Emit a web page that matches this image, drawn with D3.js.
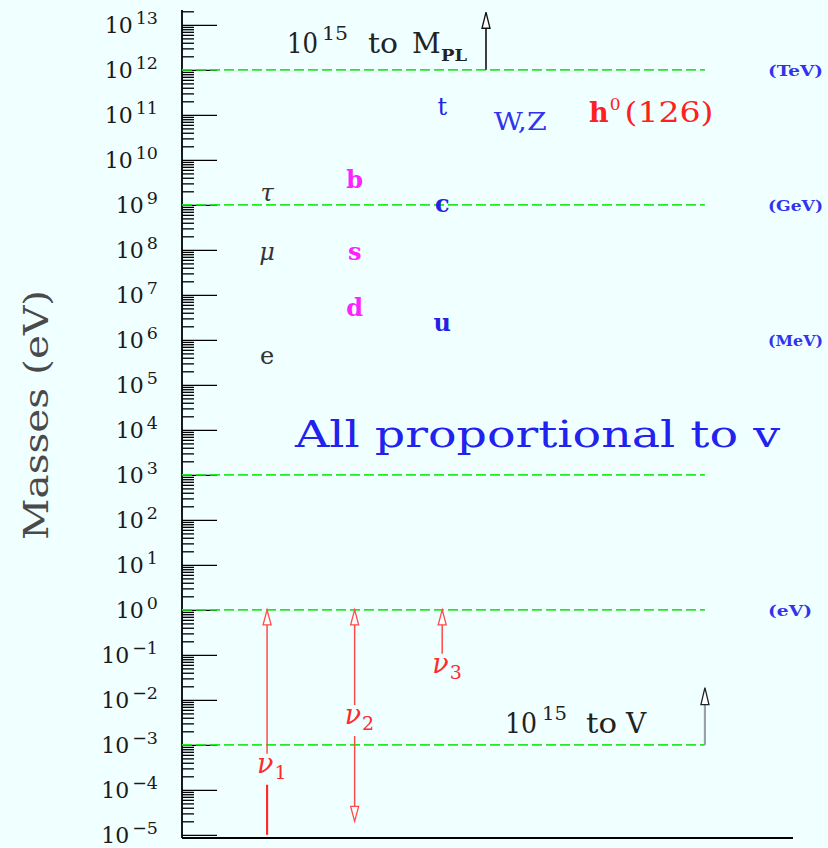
<!DOCTYPE html>
<html>
<head>
<meta charset="utf-8">
<script src="https://cdn.jsdelivr.net/npm/d3@7"></script>
<style>
  html, body { margin: 0; padding: 0; background: #f0ffff; }
  svg { display: block; }
</style>
</head>
<body>
<svg id="chart" width="828" height="848"></svg>
<script>
// ---------------- DATA ----------------
const decadeExponents = d3.range(-5, 14);          // major ticks 10^-5 ... 10^13
const minorMultipliers = [2, 3, 4, 5, 6, 7, 8, 9];
const guideMasses = [1e12, 1e9, 1e3, 1, 1e-3];      // green dashed lines (eV)
const unitNames = ["(TeV)", "(GeV)", "(MeV)", "(eV)"];
const unitMasses = [1e12, 1e9, 1e6, 1];

const leptonNames = ["e", "μ", "τ"];
const leptonMasses = [5.1e5, 1.06e8, 2.1e9];
const downQuarkNames = ["d", "s", "b"];
const downQuarkMasses = [6.0e6, 1.05e8, 4.2e9];
const upQuarkNames = ["u", "c", "t"];
const upQuarkMasses = [2.7e6, 1.2e9, 1.74e11];
const bosonNames = ["W,Z", "h"];
const bosonMasses = [9.0e10, 1.26e11];

const neutrinoIndex = ["1", "2", "3"];
const neutrinoLow = [1e-5, 2e-5, 0.09];
const neutrinoHigh = [1, 1, 1];
const neutrinoLabelMass = [2.4e-4, 2.9e-3, 4.0e-2];
const neutrinoLowerHead = [false, true, false];

// ---------------- LAYOUT ----------------
const W = 828, H = 848;
const axisX = 182, axisRight = 793, axisBottom = 838, axisTop = 10;
const serif = "DejaVu Serif";

const svg = d3.select("#chart");
svg.append("rect").attr("width", W).attr("height", H).attr("fill", "#f0ffff");

const y = d3.scaleLog().domain([Math.pow(10, -5.07), Math.pow(10, 13.33)]).range([axisBottom, axisTop]);
const x = d3.scaleLinear().domain([0, 7]).range([179.5, 792.5]);

// ---------------- AXES ----------------
const minorValues = [];
decadeExponents.forEach(k => minorMultipliers.forEach(m => {
  const v = m * Math.pow(10, k);
  if (v <= y.domain()[1]) minorValues.push(v);
}));

const minorAxis = d3.axisLeft(y).tickValues(minorValues).tickSize(-12).tickFormat("");
const gMinor = svg.append("g").attr("transform", `translate(${axisX},0)`).call(minorAxis);
gMinor.select(".domain").remove();
gMinor.selectAll("line").attr("stroke", "#000").attr("stroke-width", 1.3);

const majorAxis = d3.axisLeft(y)
  .tickValues(decadeExponents.map(k => Math.pow(10, k)))
  .tickSize(-35).tickPadding(24).tickFormat("");
const gMajor = svg.append("g").attr("transform", `translate(${axisX},0)`).call(majorAxis);
gMajor.select(".domain").remove();
gMajor.selectAll("line").attr("stroke", "#000").attr("stroke-width", 1.4);
gMajor.selectAll(".tick text").each(function(d) {
  const e = Math.round(Math.log10(d));
  const t = d3.select(this)
    .attr("dy", null).attr("y", 8)
    .attr("font-family", serif).attr("fill", "#1a1a1a")
    .attr("text-anchor", "end");
  t.append("tspan").attr("font-size", 22).text("10");
  t.append("tspan").attr("font-size", 17.5).attr("dx", 3).attr("dy", -9)
    .text(e < 0 ? "\u2212" + (-e) : String(e));
});

// frame lines (axis spines)
svg.append("line").attr("x1", axisX).attr("x2", axisX).attr("y1", axisTop).attr("y2", axisBottom)
  .attr("stroke", "#000").attr("stroke-width", 1.8);
svg.append("line").attr("x1", axisX).attr("x2", axisRight).attr("y1", axisBottom).attr("y2", axisBottom)
  .attr("stroke", "#000").attr("stroke-width", 1.8);

// y-axis title
svg.append("text")
  .attr("transform", `translate(48,415) rotate(-90)`)
  .attr("text-anchor", "middle")
  .attr("font-family", serif).attr("font-size", 34).attr("fill", "#4a4a4a")
  .attr("textLength", 250).attr("lengthAdjust", "spacingAndGlyphs")
  .text("Masses (eV)");

// ---------------- GUIDE LINES ----------------
svg.append("g").selectAll("line").data(guideMasses).join("line")
  .attr("x1", axisX).attr("x2", x(6))
  .attr("y1", d => y(d)).attr("y2", d => y(d))
  .attr("stroke", "#22ea22").attr("stroke-width", 1.6)
  .attr("stroke-dasharray", "10,4");

svg.append("g").selectAll("text").data(unitNames).join("text")
  .attr("x", 768).attr("y", (d, i) => y(unitMasses[i]) + 6)
  .attr("font-family", serif).attr("font-weight", "bold").attr("font-size", 15)
  .attr("fill", "#3333ee")
  .attr("textLength", d => (d === "(eV)" ? 44 : 55)).attr("lengthAdjust", "spacingAndGlyphs")
  .text(d => d);

// ---------------- PARTICLE LABELS ----------------
function particleGroup(names, masses, col, color, weight, style) {
  svg.append("g").selectAll("text").data(names).join("text")
    .attr("x", x(col)).attr("y", (d, i) => y(masses[i]) + 11)
    .attr("text-anchor", "middle")
    .attr("font-family", serif).attr("font-size", 24)
    .attr("font-weight", d => (typeof weight === "function" ? weight(d) : weight))
    .attr("font-style", d => (typeof style === "function" ? style(d) : style))
    .attr("fill", color)
    .text(d => d);
}
particleGroup(leptonNames, leptonMasses, 1, "#333", "normal", d => (d === "e" ? "normal" : "italic"));
particleGroup(downQuarkNames, downQuarkMasses, 2, "#ff22ff", "bold", "normal");
particleGroup(upQuarkNames, upQuarkMasses, 3, "#2222e6", d => (d === "t" ? "normal" : "bold"), "normal");

// W,Z
svg.append("text").attr("x", x(3.89)).attr("y", y(bosonMasses[0]) + 13)
  .attr("text-anchor", "middle").attr("font-family", serif).attr("font-size", 25)
  .attr("fill", "#3333ee").attr("textLength", 53).attr("lengthAdjust", "spacingAndGlyphs")
  .text(bosonNames[0]);
// h0(126)
const hText = svg.append("text").attr("x", 589).attr("y", y(bosonMasses[1]) + 12)
  .attr("font-family", serif).attr("fill", "#ff2020");
hText.append("tspan").attr("font-size", 27).attr("font-weight", "bold").text(bosonNames[1]);
hText.append("tspan").attr("font-size", 17).attr("dy", -12).attr("dx", 1).text("0");
hText.append("tspan").attr("font-size", 27).attr("dy", 12).attr("dx", 4)
  .attr("textLength", 89).attr("lengthAdjust", "spacingAndGlyphs").text("(126)");

// "All proportional to v"
svg.append("text").attr("x", 295).attr("y", y(Math.pow(10, 3.62)))
  .attr("font-family", serif).attr("font-size", 37).attr("fill", "#2222ee")
  .attr("textLength", 485).attr("lengthAdjust", "spacingAndGlyphs")
  .text("All proportional to v");

// ---------------- ARROWS ----------------
function openHead(g, cx, tipY, dir, color, fill, w, h) {
  // dir = -1 pointing up, +1 pointing down
  const baseY = tipY - dir * h;
  g.append("path")
    .attr("d", `M${cx},${tipY} L${cx - w / 2},${baseY} L${cx + w / 2},${baseY} Z`)
    .attr("fill", fill).attr("stroke", color).attr("stroke-width", 1.3)
    .attr("stroke-linejoin", "miter");
}

// helper: label built from pieces [text, x, dyFromBase, size, weight, length]
function pieceLabel(baseY, pieces, color) {
  const t = svg.append("text").attr("font-family", serif).attr("fill", color);
  pieces.forEach(p => {
    const s = t.append("tspan").attr("x", p[1]).attr("y", baseY + p[2])
      .attr("font-size", p[3]).attr("font-weight", p[4])
      .text(p[0]);
    if (p[5]) s.attr("textLength", p[5]).attr("lengthAdjust", "spacingAndGlyphs");
  });
}

// 10^15 to M_PL
const topArrow = svg.append("g");
const topTip = y(Math.pow(10, 13.28));
topArrow.append("line").attr("x1", x(3.5)).attr("x2", x(3.5))
  .attr("y1", y(1e12)).attr("y2", topTip + 14)
  .attr("stroke", "#111").attr("stroke-width", 1.6);
openHead(topArrow, x(3.5), topTip, -1, "#111", "#fff", 8, 16);
pieceLabel(53, [
  ["10", 287, 0, 28, "normal", 31],
  ["15", 322, -13, 18, "normal", 26],
  ["to", 368, 0, 28, "normal", 30],
  ["M", 412, 0, 28, "normal", 0],
  ["PL", 441, 8, 16, "bold", 26]
], "#222");

// 10^15 to V
const botArrow = svg.append("g");
const botTip = y(Math.pow(10, -1.73));
botArrow.append("line").attr("x1", x(6)).attr("x2", x(6))
  .attr("y1", y(1e-3)).attr("y2", botTip + 15)
  .attr("stroke", "#9aa0aa").attr("stroke-width", 2.2);
openHead(botArrow, x(6), botTip, -1, "#222", "#fff", 8, 17);
pieceLabel(733, [
  ["10", 505, 0, 28, "normal", 32],
  ["15", 542, -13, 18, "normal", 25],
  ["to", 586, 0, 28, "normal", 31],
  ["V", 626, 0, 28, "normal", 0]
], "#222");

// neutrinos
const nuColor = "#ff4a4a";
neutrinoIndex.forEach((n, i) => {
  const g = svg.append("g");
  const cx = x(i + 1);
  const yTop = y(neutrinoHigh[i]);
  const yLow = y(neutrinoLow[i]);
  const yLab = y(neutrinoLabelMass[i]);           // baseline of label
  const gapTop = yLab - 19, gapBot = yLab + 12;
  const headH = 15, headW = 8;
  // upper segment
  g.append("line").attr("x1", cx).attr("x2", cx)
    .attr("y1", yTop + headH).attr("y2", Math.min(gapTop, yLow))
    .attr("stroke", nuColor).attr("stroke-width", 1.5);
  openHead(g, cx, yTop, -1, nuColor, "#fff", headW, headH);
  // lower segment
  if (yLow > gapBot) {
    const endY = neutrinoLowerHead[i] ? yLow - headH : yLow;
    g.append("line").attr("x1", cx).attr("x2", cx)
      .attr("y1", gapBot).attr("y2", endY)
      .attr("stroke", neutrinoLowerHead[i] ? nuColor : "#ff2a2a")
      .attr("stroke-width", neutrinoLowerHead[i] ? 1.5 : 2.2);
    if (neutrinoLowerHead[i]) openHead(g, cx, yLow, 1, nuColor, "#fff", headW, headH);
  }
  const t = g.append("text").attr("x", cx - 10).attr("y", yLab)
    .attr("font-family", serif).attr("fill", "#ff2a2a");
  t.append("tspan").attr("font-size", 27).attr("font-style", "italic").text("ν");
  t.append("tspan").attr("font-size", 19).attr("dy", 6).attr("dx", 1).text(n);
});
</script>
</body>
</html>
